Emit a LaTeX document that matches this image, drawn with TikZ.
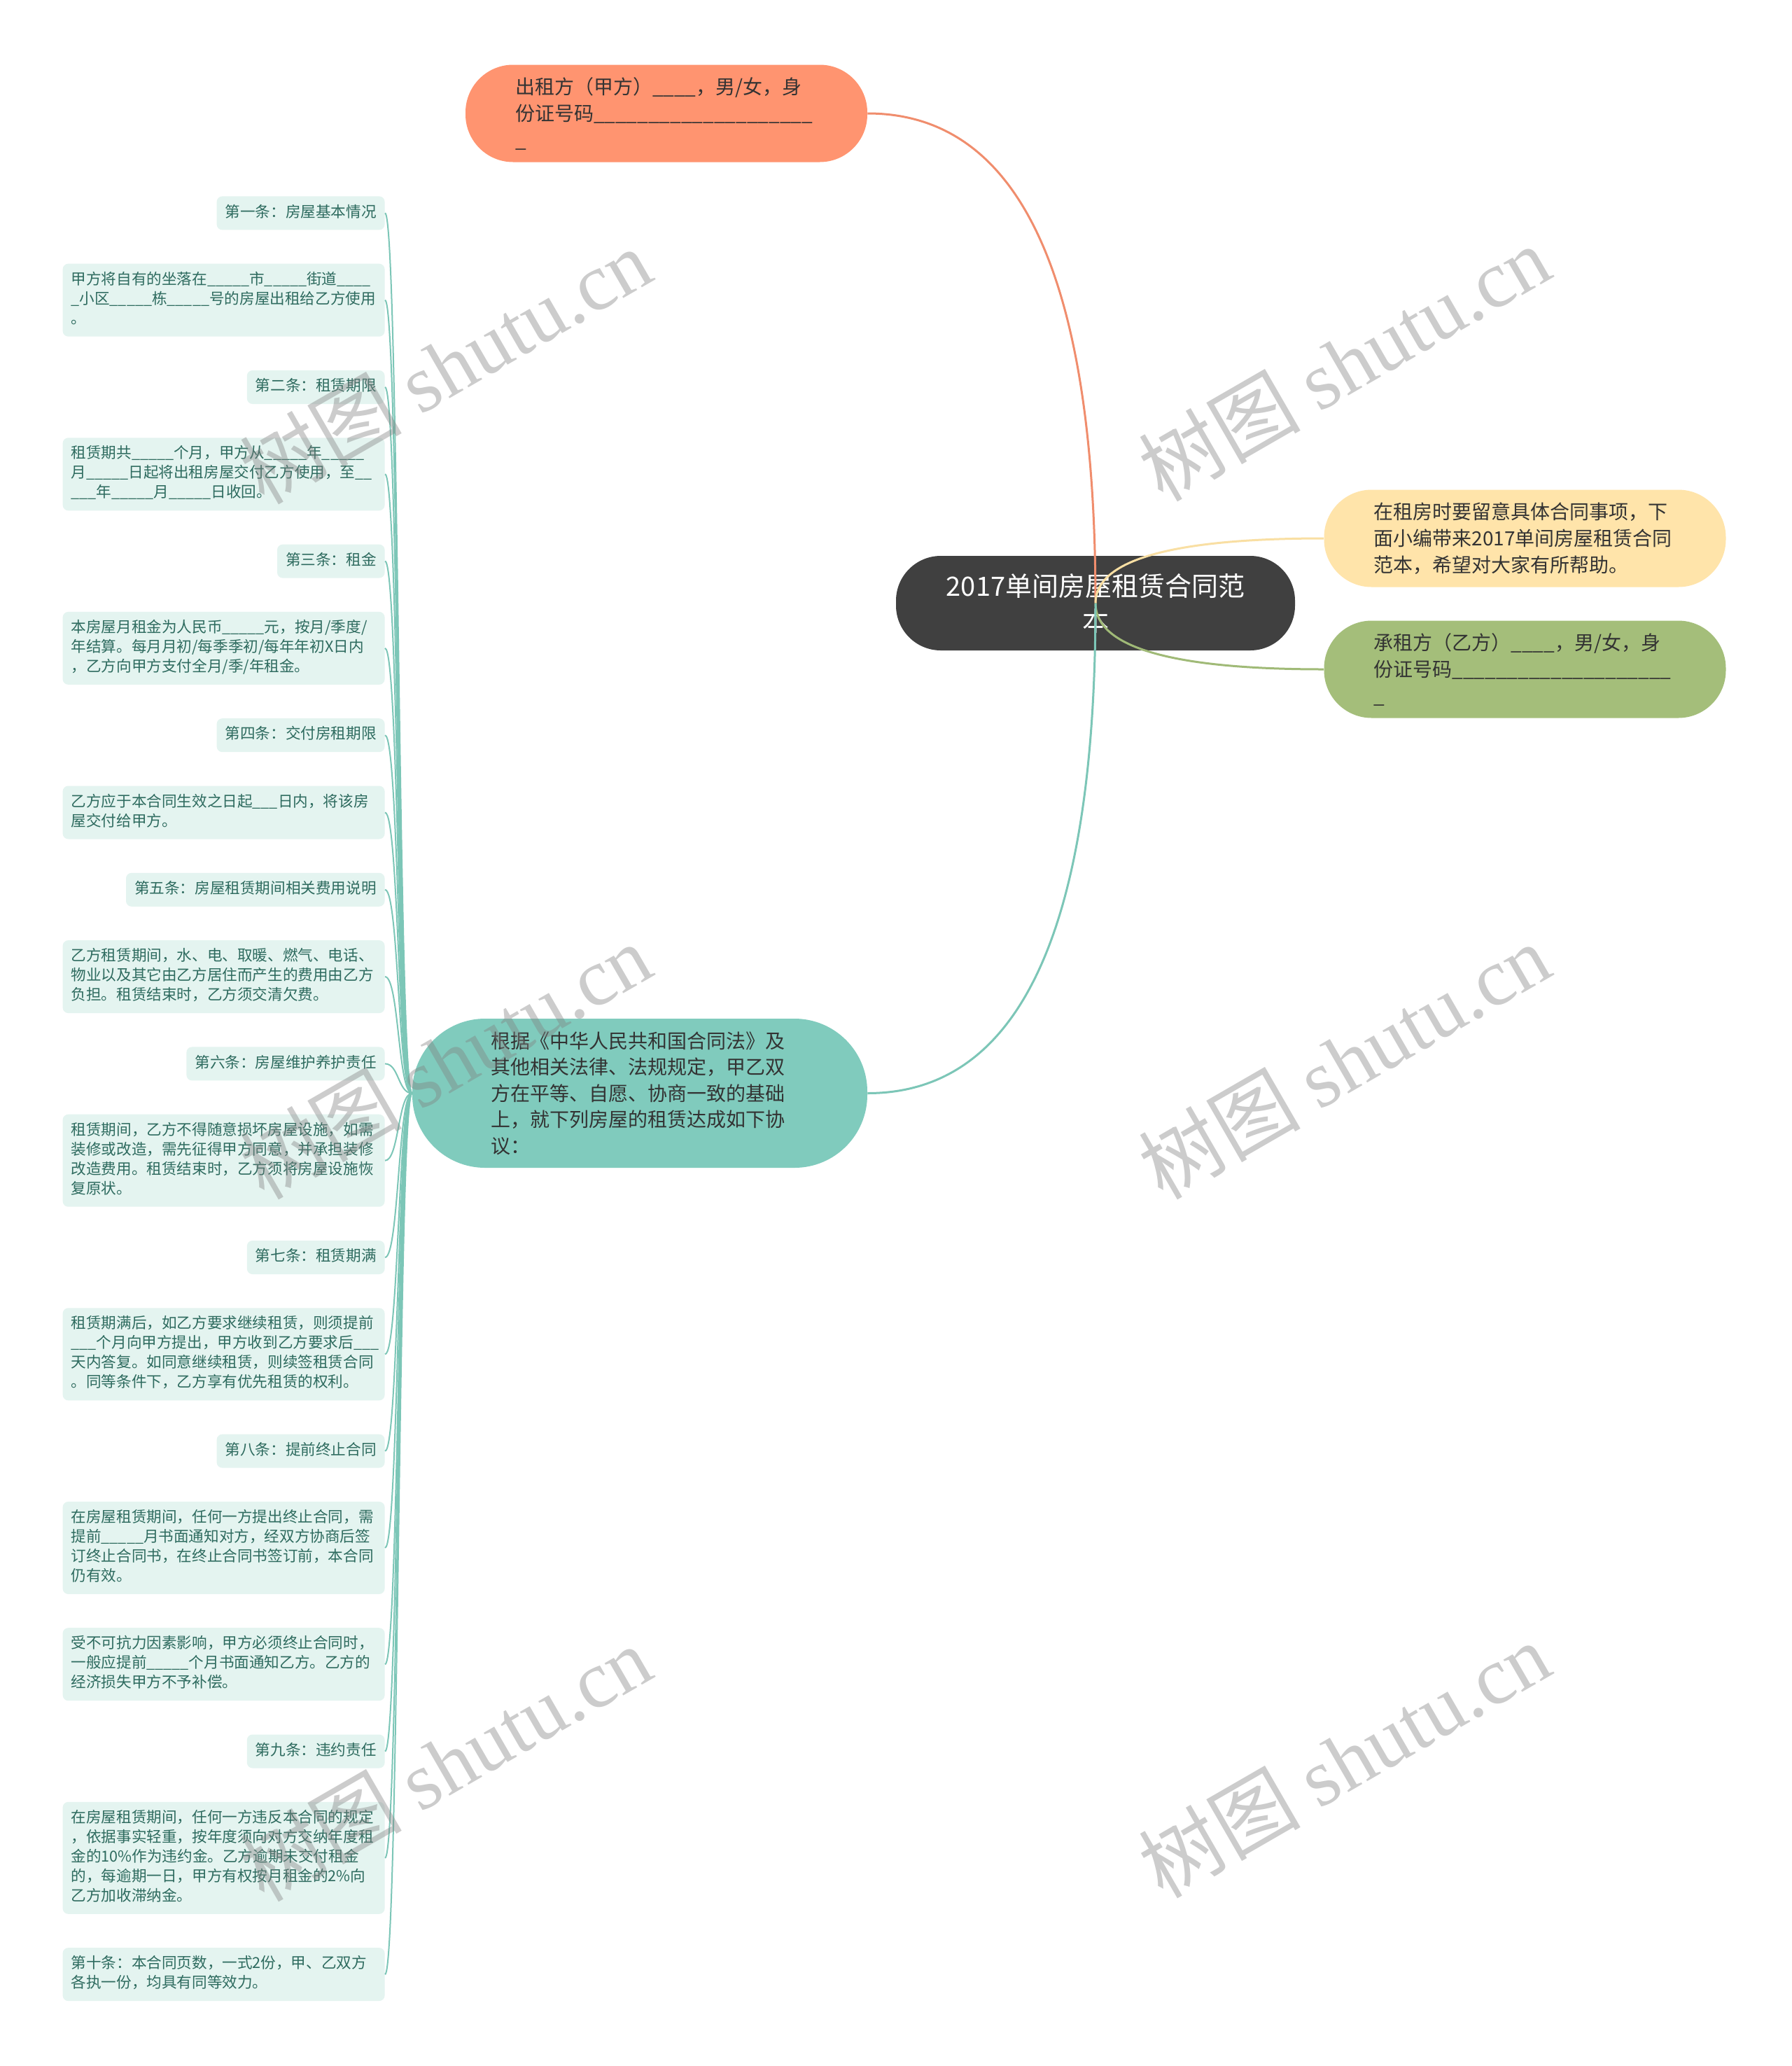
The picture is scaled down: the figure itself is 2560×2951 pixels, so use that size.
\documentclass[tikz,border=0pt]{standalone}
\usepackage{fontspec}
\setmainfont{Noto Sans CJK SC}
\newfontfamily\wmfont{Liberation Serif}
\usetikzlibrary{positioning, calc}

\definecolor{rootgray}{HTML}{404040}
\definecolor{lessorfill}{HTML}{FF9470}
\definecolor{lessorline}{HTML}{F08D6D}
\definecolor{introfill}{HTML}{FFE4AA}
\definecolor{introline}{HTML}{F9DFA3}
\definecolor{lesseefill}{HTML}{A4BE7A}
\definecolor{lesseeline}{HTML}{A0BA77}
\definecolor{basisfill}{HTML}{80CBBD}
\definecolor{basisline}{HTML}{7CC6B7}
\definecolor{clausefill}{HTML}{E4F4F0}
\definecolor{clausetext}{HTML}{2E6B5F}

\begin{document}
\begin{tikzpicture}[
                x=0.5pt, y=-0.5pt,
                rootbox/.style={fill=rootgray, text=white, rounded corners=32pt, minimum width=285pt, minimum height=67.5pt, text width=220pt, align=center, inner sep=0pt, font=\fontsize{19pt}{25pt}\selectfont},
                branch/.style={rounded corners=34pt, minimum width=287pt, minimum height=69.5pt, text width=216pt, align=left, inner sep=0pt, text=black!80, font=\fontsize{14pt}{19pt}\selectfont},
                basis/.style={branch, fill=basisfill, rounded corners=52pt, minimum width=325pt, minimum height=106.5pt, text width=213pt, font=\fontsize{14pt}{18.75pt}\selectfont},
                clause/.style={fill=clausefill, text=clausetext, rounded corners=4pt, inner xsep=6pt, inner ysep=5pt, font=\fontsize{10.8pt}{14pt}\selectfont, execute at begin node=\strut, execute at end node=\strut},
                clausebody/.style={clause, text width=218pt, align=left},
                mainedge/.style={line width=1.5pt},
                clauseedge/.style={draw=basisline, line width=1pt},
                watermark/.style={text=gray, text opacity=0.4, rotate=30, font=\fontsize{58pt}{58pt}\selectfont}
            ]

            \fill[white] (0,0) rectangle (2560,2951);
            \useasboundingbox (0,0) rectangle (2560,2951);

            % Knoten
            \node[rootbox] (root) at (1565,861.5) {2017单间房屋租赁合同范\\本};
            \node[branch, fill=lessorfill] (lessor) at (952,162) {出租方（甲方）\_\_\_\_，男/女，身\\份证号码\_\_\_\_\_\_\_\_\_\_\_\_\_\_\_\_\_\_\_\_\\\_};
            \node[branch, fill=introfill] (intro) at (2178.5,769) {在租房时要留意具体合同事项，下\\面小编带来2017单间房屋租赁合同\\范本，希望对大家有所帮助。};
            \node[branch, fill=lesseefill] (lessee) at (2178.5,956) {承租方（乙方）\_\_\_\_，男/女，身\\份证号码\_\_\_\_\_\_\_\_\_\_\_\_\_\_\_\_\_\_\_\_\\\_};
            \node[basis] (basis) at (914,1561.5) {根据《中华人民共和国合同法》及\\其他相关法律、法规规定，甲乙双\\方在平等、自愿、协商一致的基础\\上，就下列房屋的租赁达成如下协\\议：};

            % Artikel
            \node[clause, anchor=north east] (art1) at (550,280) {第一条：房屋基本情况};
            \node[clausebody, below=23.75pt of art1.south east, anchor=north east] (art1txt) {甲方将自有的坐落在\_\_\_\_\_市\_\_\_\_\_街道\_\_\_\_\\\_小区\_\_\_\_\_栋\_\_\_\_\_号的房屋出租给乙方使用\\。};
            \node[clause, below=23.75pt of art1txt.south east, anchor=north east] (art2) {第二条：租赁期限};
            \node[clausebody, below=23.75pt of art2.south east, anchor=north east] (art2txt) {租赁期共\_\_\_\_\_个月，甲方从\_\_\_\_\_年\_\_\_\_\_\\月\_\_\_\_\_日起将出租房屋交付乙方使用，至\_\_\\\_\_\_年\_\_\_\_\_月\_\_\_\_\_日收回。};
            \node[clause, below=23.75pt of art2txt.south east, anchor=north east] (art3) {第三条：租金};
            \node[clausebody, below=23.75pt of art3.south east, anchor=north east] (art3txt) {本房屋月租金为人民币\_\_\_\_\_元，按月/季度/\\年结算。每月月初/每季季初/每年年初X日内\\，乙方向甲方支付全月/季/年租金。};
            \node[clause, below=23.75pt of art3txt.south east, anchor=north east] (art4) {第四条：交付房租期限};
            \node[clausebody, below=23.75pt of art4.south east, anchor=north east] (art4txt) {乙方应于本合同生效之日起\_\_\_日内，将该房\\屋交付给甲方。};
            \node[clause, below=23.75pt of art4txt.south east, anchor=north east] (art5) {第五条：房屋租赁期间相关费用说明};
            \node[clausebody, below=23.75pt of art5.south east, anchor=north east] (art5txt) {乙方租赁期间，水、电、取暖、燃气、电话、\\物业以及其它由乙方居住而产生的费用由乙方\\负担。租赁结束时，乙方须交清欠费。};
            \node[clause, below=23.75pt of art5txt.south east, anchor=north east] (art6) {第六条：房屋维护养护责任};
            \node[clausebody, below=23.75pt of art6.south east, anchor=north east] (art6txt) {租赁期间，乙方不得随意损坏房屋设施，如需\\装修或改造，需先征得甲方同意，并承担装修\\改造费用。租赁结束时，乙方须将房屋设施恢\\复原状。};
            \node[clause, below=23.75pt of art6txt.south east, anchor=north east] (art7) {第七条：租赁期满};
            \node[clausebody, below=23.75pt of art7.south east, anchor=north east] (art7txt) {租赁期满后，如乙方要求继续租赁，则须提前\\\_\_\_个月向甲方提出，甲方收到乙方要求后\_\_\_\\天内答复。如同意继续租赁，则续签租赁合同\\。同等条件下，乙方享有优先租赁的权利。};
            \node[clause, below=23.75pt of art7txt.south east, anchor=north east] (art8) {第八条：提前终止合同};
            \node[clausebody, below=23.75pt of art8.south east, anchor=north east] (art8txt) {在房屋租赁期间，任何一方提出终止合同，需\\提前\_\_\_\_\_月书面通知对方，经双方协商后签\\订终止合同书，在终止合同书签订前，本合同\\仍有效。};
            \node[clausebody, below=23.75pt of art8txt.south east, anchor=north east] (art8force) {受不可抗力因素影响，甲方必须终止合同时，\\一般应提前\_\_\_\_\_个月书面通知乙方。乙方的\\经济损失甲方不予补偿。};
            \node[clause, below=23.75pt of art8force.south east, anchor=north east] (art9) {第九条：违约责任};
            \node[clausebody, below=23.75pt of art9.south east, anchor=north east] (art9txt) {在房屋租赁期间，任何一方违反本合同的规定\\，依据事实轻重，按年度须向对方交纳年度租\\金的10\%作为违约金。乙方逾期未交付租金\\的，每逾期一日，甲方有权按月租金的2\%向\\乙方加收滞纳金。};
            \node[clausebody, below=23.75pt of art9txt.south east, anchor=north east] (art10) {第十条：本合同页数，一式2份，甲、乙双方\\各执一份，均具有同等效力。};

            % Kanten vom Titel
            \draw[mainedge, draw=lessorline] (root.center) .. controls ($(root.center)!2/3!(root.center |- lessor.east)$) and ($(lessor.east)!2/3!(root.center |- lessor.east)$) .. (lessor.east);

            \draw[mainedge, draw=introline] (root.center) .. controls ($(root.center)!2/3!(root.center |- intro.west)$) and ($(intro.west)!2/3!(root.center |- intro.west)$) .. (intro.west);

            \draw[mainedge, draw=lesseeline] (root.center) .. controls ($(root.center)!2/3!(root.center |- lessee.west)$) and ($(lessee.west)!2/3!(root.center |- lessee.west)$) .. (lessee.west);

            \draw[mainedge, draw=basisline] (root.center) .. controls ($(root.center)!2/3!(root.center |- basis.east)$) and ($(basis.east)!2/3!(root.center |- basis.east)$) .. (basis.east);

            % Kanten zu den Artikeln
            \draw[clauseedge] (basis.west) .. controls +(-20,0) and +(20,0) .. (art1.east);
            \draw[clauseedge] (basis.west) .. controls +(-20,0) and +(20,0) .. (art1txt.east);
            \draw[clauseedge] (basis.west) .. controls +(-20,0) and +(20,0) .. (art2.east);
            \draw[clauseedge] (basis.west) .. controls +(-20,0) and +(20,0) .. (art2txt.east);
            \draw[clauseedge] (basis.west) .. controls +(-20,0) and +(20,0) .. (art3.east);
            \draw[clauseedge] (basis.west) .. controls +(-20,0) and +(20,0) .. (art3txt.east);
            \draw[clauseedge] (basis.west) .. controls +(-20,0) and +(20,0) .. (art4.east);
            \draw[clauseedge] (basis.west) .. controls +(-20,0) and +(20,0) .. (art4txt.east);
            \draw[clauseedge] (basis.west) .. controls +(-20,0) and +(20,0) .. (art5.east);
            \draw[clauseedge] (basis.west) .. controls +(-20,0) and +(20,0) .. (art5txt.east);
            \draw[clauseedge] (basis.west) .. controls +(-20,0) and +(20,0) .. (art6.east);
            \draw[clauseedge] (basis.west) .. controls +(-20,0) and +(20,0) .. (art6txt.east);
            \draw[clauseedge] (basis.west) .. controls +(-20,0) and +(20,0) .. (art7.east);
            \draw[clauseedge] (basis.west) .. controls +(-20,0) and +(20,0) .. (art7txt.east);
            \draw[clauseedge] (basis.west) .. controls +(-20,0) and +(20,0) .. (art8.east);
            \draw[clauseedge] (basis.west) .. controls +(-20,0) and +(20,0) .. (art8txt.east);
            \draw[clauseedge] (basis.west) .. controls +(-20,0) and +(20,0) .. (art8force.east);
            \draw[clauseedge] (basis.west) .. controls +(-20,0) and +(20,0) .. (art9.east);
            \draw[clauseedge] (basis.west) .. controls +(-20,0) and +(20,0) .. (art9txt.east);
            \draw[clauseedge] (basis.west) .. controls +(-20,0) and +(20,0) .. (art10.east);

            % Wasserzeichen
            \node[watermark] (wm1) at (636,522) {树图 {\wmfont shutu.cn}};
            \node[watermark] (wm2) at (1920,518) {树图 {\wmfont shutu.cn}};
            \node[watermark] (wm3) at (636,1515) {树图 {\wmfont shutu.cn}};
            \node[watermark] (wm4) at (1920,1515) {树图 {\wmfont shutu.cn}};
            \node[watermark] (wm5) at (636,2518) {树图 {\wmfont shutu.cn}};
            \node[watermark] (wm6) at (1920,2513) {树图 {\wmfont shutu.cn}};

        \end{tikzpicture}
\end{document}
